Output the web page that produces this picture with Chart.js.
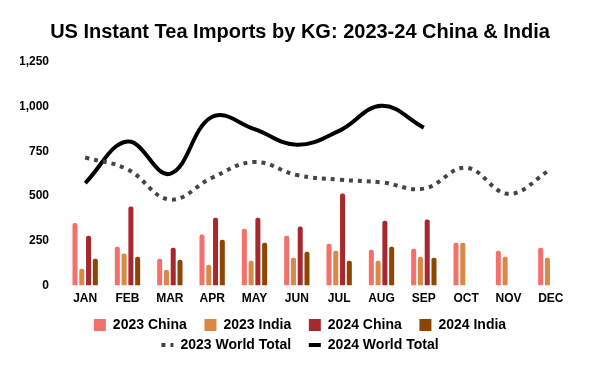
<!DOCTYPE html>
<html>
<head>
<meta charset="utf-8">
<script src="https://cdn.jsdelivr.net/npm/chart.js@4"></script>
<style>
  html, body { margin: 0; padding: 0; background: #fff; }
  #wrap { width: 600px; height: 371px; position: relative; }
</style>
</head>
<body>
<div id="wrap"><canvas id="c"></canvas></div>
<script>
const months = ['JAN','FEB','MAR','APR','MAY','JUN','JUL','AUG','SEP','OCT','NOV','DEC'];
const china2023 = [350, 217, 150, 285, 318, 279, 234, 200, 206, 240, 195, 212];
const india2023 = [94, 180, 88, 116, 139, 156, 195, 139, 161, 240, 161, 156];
const china2024 = [279, 442, 212, 380, 380, 330, 515, 363, 369, null, null, null];
const india2024 = [150, 161, 144, 257, 240, 189, 139, 217, 156, null, null, null];
const world2023 = [716, 650, 481, 603, 691, 618, 592, 577, 542, 659, 513, 650];
const world2024 = [573, 805, 625, 944, 875, 787, 865, 1005, 883, null, null, null];
const yTicks = [0, 250, 500, 750, 1000, 1250];

const FONT = '"Liberation Sans", Arial, sans-serif';
const rowEnds = [3, 5]; // last item of each legend row

function barDs(label, data, color) {
  return { type: 'bar', label, data, backgroundColor: color, borderWidth: 0,
    borderRadius: 2, categoryPercentage: 0.64, barPercentage: 0.74 };
}

new Chart(document.getElementById('c'), {
  data: {
    labels: months,
    datasets: [
      barDs('2023 China', china2023, '#F4706B'),
      barDs('2023 India', india2023, '#D98845'),
      barDs('2024 China', china2024, '#A8282F'),
      barDs('2024 India', india2024, '#8C4600'),
      { type: 'line', label: '2023 World Total', data: world2023, borderColor: '#444444',
        backgroundColor: '#444444', borderWidth: 4, borderDash: [4, 5], tension: 0.4,
        pointRadius: 0, fill: false },
      { type: 'line', label: '2024 World Total', data: world2024, borderColor: '#000000',
        backgroundColor: '#000000', borderWidth: 4, tension: 0.4, pointRadius: 0,
        fill: false, spanGaps: false }
    ]
  },
  options: {
    responsive: true,
    maintainAspectRatio: false,
    animation: false,
    layout: { padding: { left: 20, right: 20, top: 0, bottom: 9 } },
    plugins: {
      title: {
        display: true,
        text: 'US Instant Tea Imports by KG: 2023-24 China & India',
        color: '#000',
        font: { family: FONT, size: 20, weight: 'bold' },
        padding: { top: 20, bottom: 18 }
      },
      tooltip: { enabled: false },
      legend: {
        position: 'bottom',
        labels: {
          usePointStyle: true,
          pointStyleWidth: 12,
          boxWidth: 12,
          boxHeight: 12,
          padding: 6,
          color: '#000',
          font: { family: FONT, size: 14, weight: 'bold', lineHeight: 1 },
          generateLabels(chart) {
            return chart.data.datasets.map((ds, i) => {
              const isLine = ds.type === 'line';
              const pad = rowEnds.includes(i) ? '' : '\u00A0\u00A0\u00A0';
              return {
                text: ds.label + pad,
                fillStyle: isLine ? ds.borderColor : ds.backgroundColor,
                strokeStyle: isLine ? ds.borderColor : ds.backgroundColor,
                lineWidth: isLine ? 4 : 0,
                lineDash: ds.borderDash || [],
                lineCap: 'butt',
                pointStyle: isLine ? 'line' : 'rect',
                fontColor: '#000',
                hidden: false,
                datasetIndex: i
              };
            });
          }
        }
      }
    },
    scales: {
      x: {
        grid: { display: false, drawTicks: false },
        border: { display: false },
        ticks: { color: '#000', font: { family: FONT, size: 12, weight: 'bold' }, padding: 6 }
      },
      y: {
        min: 0, max: 1250,
        afterBuildTicks(axis) { axis.ticks = yTicks.map(v => ({ value: v })); },
        afterFit(axis) { axis.width = 44; },
        grid: { display: false, drawTicks: false },
        border: { display: false },
        ticks: {
          color: '#000', font: { family: FONT, size: 12, weight: 'bold' }, padding: 15,
          callback: v => v.toLocaleString('en-US')
        }
      },
      yRight: {
        position: 'right',
        min: 0, max: 1250,
        afterFit(axis) { axis.width = 8; },
        grid: { display: false, drawTicks: false },
        border: { display: false },
        ticks: { display: false }
      }
    }
  }
});
</script>
</body>
</html>
